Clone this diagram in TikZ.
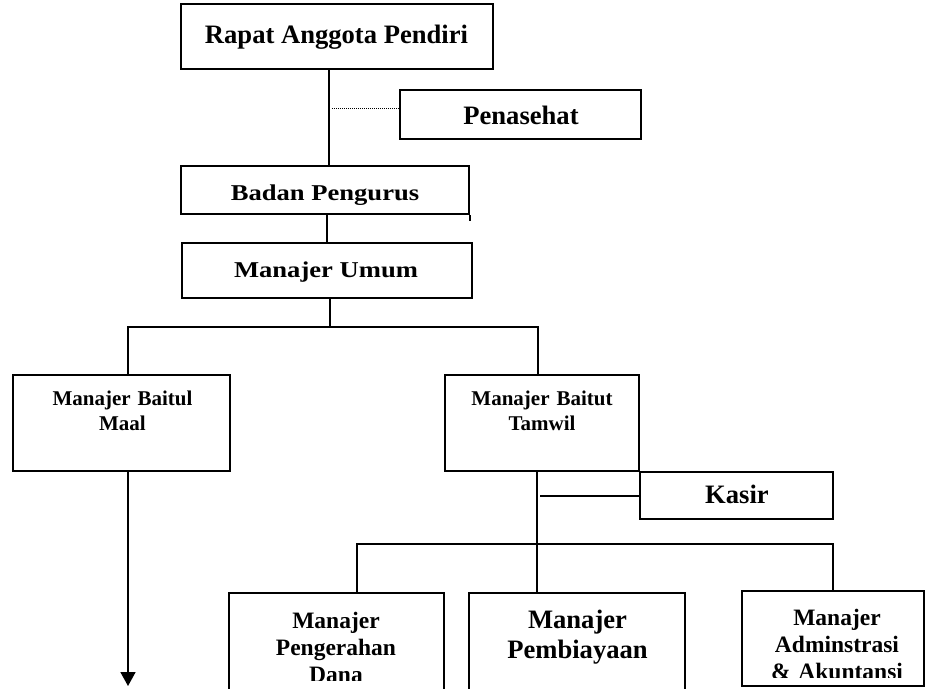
\documentclass[tikz,border=0pt]{standalone}
\usepackage{fontspec}
\setmainfont{Liberation Serif}
\usetikzlibrary{arrows.meta,calc}
\begin{document}
\begin{tikzpicture}[x=1pt,y=-1pt,
  box/.style={draw,line width=2pt,inner sep=0pt},
  conn/.style={line width=1.8pt},
  dots/.style={line width=1pt,dash pattern=on 1pt off 1pt},
  lbl/.style={inner sep=0pt,anchor=base},
  bigf/.style={font=\fontsize{26.6}{30}\selectfont\bfseries},
  smallf/.style={font=\fontsize{21}{25}\selectfont\bfseries},
  midf/.style={font=\fontsize{23.5}{27}\selectfont\bfseries}]
\useasboundingbox (0,0) rectangle (926,688);
\clip (0,0) rectangle (926,688);

% boxes
\node[box,minimum width=312pt,minimum height=65pt] (rapat) at (337,36.5) {};
\node[box,minimum width=241pt,minimum height=49pt] (penasehat) at (520.5,114.5) {};
\node[box,minimum width=288pt,minimum height=48pt] (badan) at (325,190) {};
\node[box,minimum width=290pt,minimum height=55pt] (umum) at (327,270.5) {};
\node[box,minimum width=217pt,minimum height=96pt] (maal) at (121.5,423) {};
\node[box,minimum width=194pt,minimum height=96pt] (tamwil) at (542,423) {};
\node[box,minimum width=193pt,minimum height=47pt] (kasir) at (736.5,495.5) {};
\node[box,minimum width=215pt,minimum height=107pt] (pengerahan) at (336.5,646.5) {};
\node[box,minimum width=216pt,minimum height=107pt] (pembiayaan) at (577,646.5) {};
\node[box,minimum width=182pt,minimum height=95pt] (admin) at (833,638.5) {};

% texts
\node[lbl,bigf] (rapatT) at (336.5,43) {Rapat Anggota Pendiri};
\node[lbl,bigf] (penasehatT) at (521,124) {Penasehat};
\node[lbl,bigf] (badanT) at (325,200) {\scalebox{1}[0.85]{Badan Pengurus}};
\node[lbl,bigf] (umumT) at (326,277) {\scalebox{1}[0.85]{Manajer Umum}};
\node[lbl,smallf,align=center,text width=200pt] (maalT) at (122.5,405) {Manajer Baitul\\Maal};
\node[lbl,smallf,align=center,text width=180pt] (tamwilT) at (542,405) {Manajer Baitut\\Tamwil};
\node[lbl,bigf] (kasirT) at (737,503) {Kasir};
\begin{scope}
\clip (229,593) rectangle (444,680);
\node[lbl,midf,align=center,text width=200pt] (pengerahanT) at (336,628) {Manajer\\Pengerahan\\Dana};
\end{scope}
\node[lbl,bigf,align=center,text width=210pt] (pembiayaanT) at (577.5,628) {Manajer\\Pembiayaan};
\begin{scope}
\clip (742,591) rectangle (924,677);
\node[lbl,midf,align=center,text width=175pt] (adminT) at (837,625) {Manajer\\Adminstrasi\\\& Akuntansi};
\end{scope}

% connectors
\draw[conn] ([xshift=-8pt]rapat.south) -- ([xshift=4pt]badan.north);
\coordinate (dotA) at (332,108);
\draw[dots] (dotA) -- (dotA -| penasehat.west);
\draw[line width=2pt] (badan.south east) -- ++(0,6);
\draw[conn] (badan.south -| umum.north) -- ([yshift=-2pt]umum.north);

\coordinate (bus1) at (330,327);
\coordinate (b1L) at (128,327);
\coordinate (b1R) at (538,327);
\draw[conn] (umum.south -| bus1) -- (bus1);
\draw[conn] (b1L |- maal.north) -- (b1L) -- (b1R) -- (b1R |- tamwil.north);

\coordinate (arrowEnd) at (128,686);
\draw[conn,-{Triangle[width=15pt,length=14pt]}] (maal.south -| arrowEnd) -- (arrowEnd);

\coordinate (b2) at (537,544);
\coordinate (b2L) at (357,544);
\coordinate (b2R) at (833,544);
\draw[conn] (tamwil.south -| b2) -- (b2 |- pembiayaan.north);
\coordinate (kasL) at (540,496);
\draw[conn] (kasL) -- (kasL -| kasir.west);
\draw[conn] (b2L |- pengerahan.north) -- (b2L) -- (b2R) -- (admin.north);
\end{tikzpicture}
\end{document}
